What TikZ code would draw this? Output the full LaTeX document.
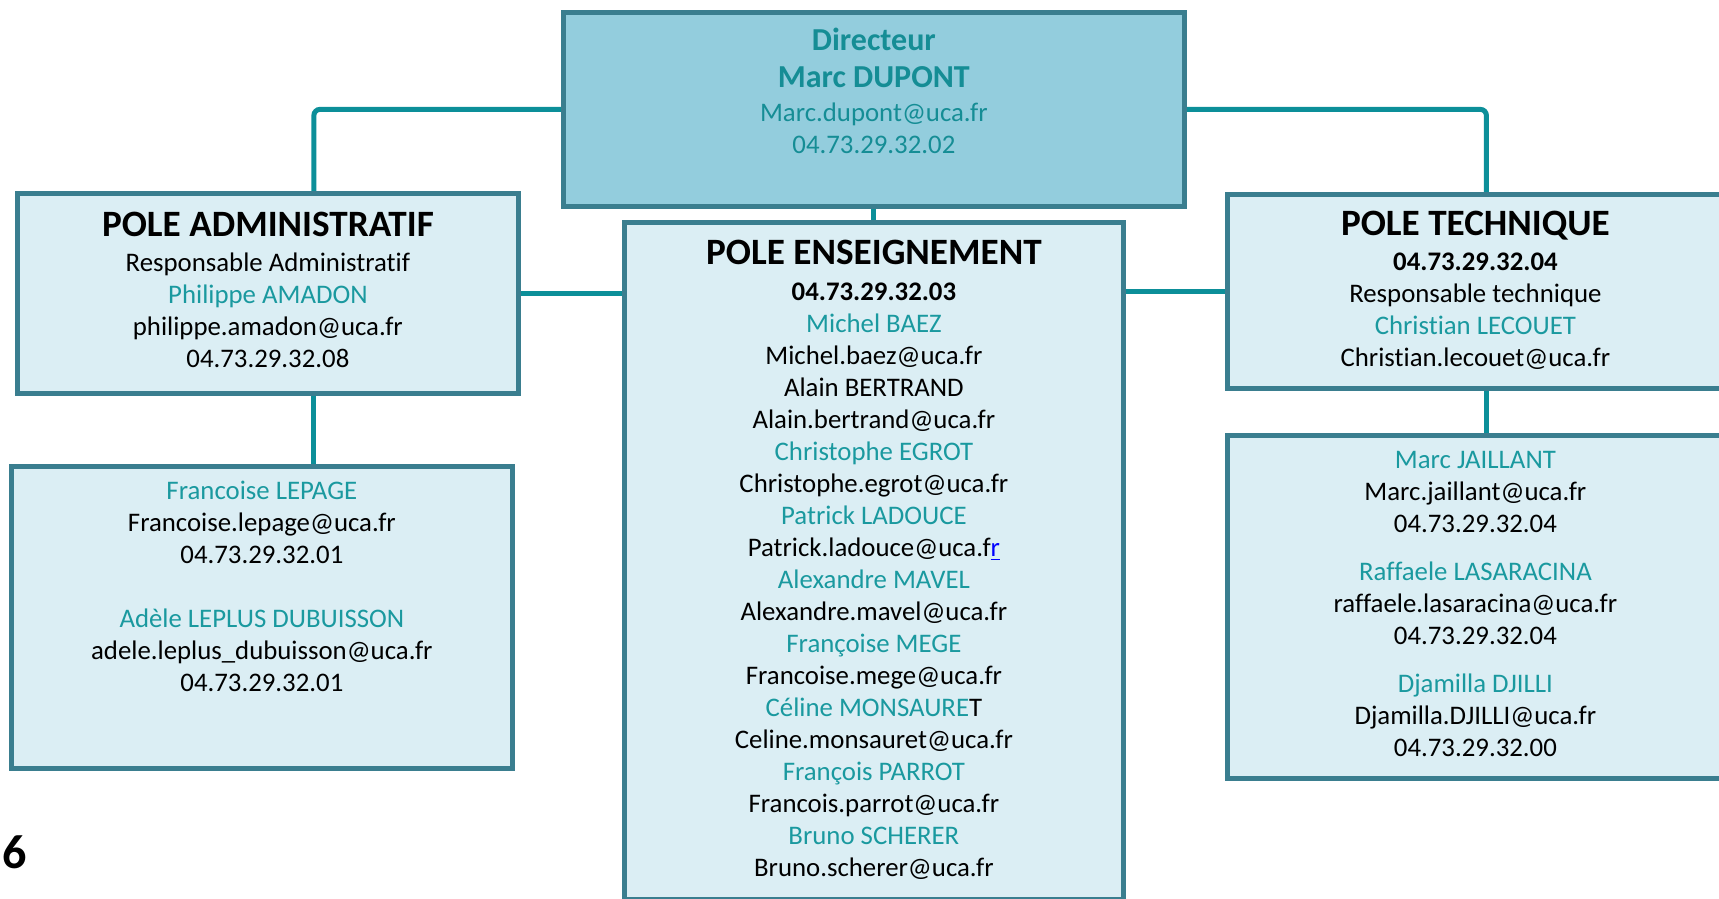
\documentclass[tikz,border=0pt]{standalone}
\usepackage{fontspec}
\setmainfont{Carlito}[Ligatures=NoCommon]
\usetikzlibrary{calc,backgrounds}

\definecolor{boxfill}{HTML}{DBEEF4}
\definecolor{dirfill}{HTML}{93CDDD}
\definecolor{boxline}{HTML}{3A7E8F}
\definecolor{linkcol}{HTML}{0C8F99}
\definecolor{namecol}{HTML}{1A999F}
\definecolor{dircol}{HTML}{158D95}

\newcommand{\nm}[1]{\textcolor{namecol}{#1}}
\newcommand{\hd}[1]{{\fontsize{18.6pt}{16pt}\selectfont\bfseries #1}}

\begin{document}
\begin{tikzpicture}[x=0.5pt, y=-0.5pt,
    pole/.style={draw=boxline, line width=2.4pt, fill=boxfill, anchor=north west, inner sep=0pt},
    info/.style={anchor=north, inner sep=0pt, align=center, font=\fontsize{13.4pt}{16pt}\selectfont},
    link/.style={draw=linkcol, line width=2.5pt, rounded corners=3pt}]
    \useasboundingbox (0,0) rectangle (1719,899);
    \clip (0,0) rectangle (1719,899);

    \node[pole, fill=dirfill, minimum width=310.5pt, minimum height=97pt] (dir) at (561,10) {};
    \node[pole, minimum width=250.5pt, minimum height=100pt] (admin) at (15,191) {};
    \node[pole, minimum width=249.5pt, minimum height=338.5pt] (ens) at (622,220) {};
    \node[pole, minimum width=248pt, minimum height=97pt] (tech) at (1225,192) {};
    \node[pole, minimum width=250.5pt, minimum height=151pt] (lowleft) at (9,464) {};
    \node[pole, minimum width=248pt, minimum height=171.5pt] (lowright) at (1225,433) {};

    \node[info, yshift=-8.9pt, text=dircol] (dirtxt) at (dir.north)
        {{\fontsize{16pt}{16pt}\selectfont\bfseries Directeur}\\[2.5pt]
         {\fontsize{16pt}{16pt}\selectfont\bfseries Marc DUPONT}\\[1pt]
         Marc.dupont@uca.fr\\
         04.73.29.32.02};
    \node[info, yshift=-10.2pt] (admintxt) at (admin.north)
        {\hd{POLE ADMINISTRATIF}\\[1.5pt]
         Responsable Administratif\\
         \nm{Philippe AMADON}\\
         philippe.amadon@uca.fr\\
         04.73.29.32.08};
    \node[info, yshift=-10pt] (enstxt) at (ens.north)
        {\hd{POLE ENSEIGNEMENT}\\[2pt]
         \textbf{04.73.29.32.03}\\
         \nm{Michel BAEZ}\\
         Michel.baez@uca.fr\\
         Alain BERTRAND\\
         Alain.bertrand@uca.fr\\
         \nm{Christophe EGROT}\\
         Christophe.egrot@uca.fr\\
         \nm{Patrick LADOUCE}\\
         Patrick.ladouce@uca.f\textcolor{blue}{\underline{r}}\\
         \nm{Alexandre MAVEL}\\
         Alexandre.mavel@uca.fr\\
         \nm{Françoise MEGE}\\
         Francoise.mege@uca.fr\\
         \nm{Céline MONSAURE}T\\
         Celine.monsauret@uca.fr\\
         \nm{François PARROT}\\
         Francois.parrot@uca.fr\\
         \nm{Bruno SCHERER}\\
         Bruno.scherer@uca.fr};
    \node[info, yshift=-9.6pt] (techtxt) at (tech.north)
        {\hd{POLE TECHNIQUE}\\[1.5pt]
         \textbf{04.73.29.32.04}\\
         Responsable technique\\
         \nm{Christian LECOUET}\\
         Christian.lecouet@uca.fr};
    \node[info, yshift=-8.2pt] (lowlefttxt) at (lowleft.north)
        {\nm{Francoise LEPAGE}\\
         Francoise.lepage@uca.fr\\
         04.73.29.32.01\\[16pt]
         \nm{Adèle LEPLUS DUBUISSON}\\
         adele.leplus\_dubuisson@uca.fr\\
         04.73.29.32.01};
    \node[info, yshift=-8.75pt] (lowrighttxt) at (lowright.north)
        {\nm{Marc JAILLANT}\\
         Marc.jaillant@uca.fr\\
         04.73.29.32.04\\[8pt]
         \nm{Raffaele LASARACINA}\\
         raffaele.lasaracina@uca.fr\\
         04.73.29.32.04\\[8pt]
         \nm{Djamilla DJILLI}\\
         Djamilla.DJILLI@uca.fr\\
         04.73.29.32.00};

    \node[anchor=west, inner sep=0pt, font=\fontsize{24pt}{24pt}\selectfont\bfseries] (pagenum) at (2,852) {6};

    \begin{scope}[on background layer]
        \draw[link] (dir.west) -| ($(admin.north)+(46,0)$);
        \draw[link] (dir.east) -| ($(tech.north)+(11,0)$);
        \draw[link] (dir.south) -- (ens.north);
        \draw[link] (admin.east) -- (admin.east -| ens.west);
        \draw[link] (tech.west) -- (tech.west -| ens.east);
        \coordinate (adown) at ($(admin.south)+(46,0)$);
        \coordinate (tdown) at ($(tech.south)+(11,0)$);
        \draw[link] (adown) -- (adown |- lowleft.north);
        \draw[link] (tdown) -- (tdown |- lowright.north);
    \end{scope}
\end{tikzpicture}
\end{document}
